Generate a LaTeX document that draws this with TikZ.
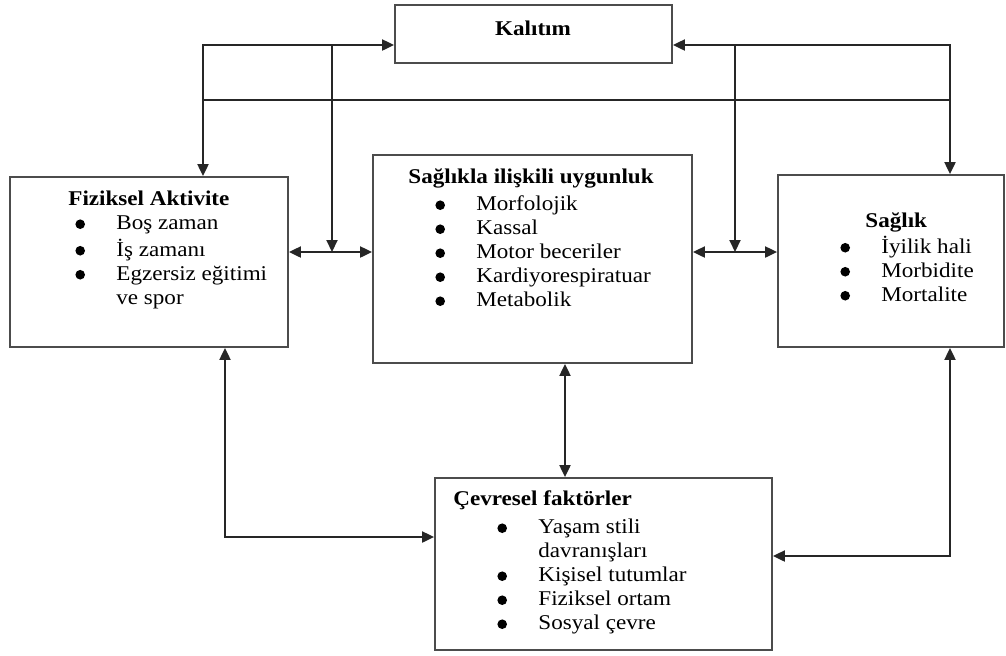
\documentclass[tikz,border=0pt]{standalone}
\usepackage{fontspec}
\setmainfont{Liberation Serif}[FakeStretch=1.1]
\usetikzlibrary{arrows.meta}
\newcommand{\bul}{\makebox[20.5pt][l]{\tikz[baseline=-2.8pt]\fill (2.4pt,0) circle [radius=2.4pt];}}

\begin{document}
\begin{tikzpicture}[
    x=0.5pt, y=-0.5pt,
    font=\fontsize{10.5}{12}\selectfont,
    box/.style={
        draw=black!70,
        line width=0.9pt,
        inner sep=0pt
    },
    title/.style={
        font=\fontsize{10.5}{12}\selectfont\bfseries,
        inner sep=0pt,
        anchor=west
    },
    items/.style={
        align=left,
        inner sep=0pt,
        anchor=north west
    },
    link/.style={
        draw=black!85,
        line width=1pt,
        -{Triangle[length=6pt,width=5.5pt]}
    },
    both/.style={
        link,
        {Triangle[length=6pt,width=5.5pt]}-{Triangle[length=6pt,width=5.5pt]}
    }
]
\useasboundingbox (0,0) rectangle (1006,655);

% ============================================================
% Boxes
% ============================================================

\node[box, minimum width=138.5pt, minimum height=29pt] (kalitim) at (533.5,34) {};
\node[box, minimum width=139pt, minimum height=85pt] (fizik) at (149,262) {};
\node[box, minimum width=159.5pt, minimum height=104pt] (uygun) at (532.5,259) {};
\node[box, minimum width=113pt, minimum height=86pt] (saglik) at (891,261) {};
\node[box, minimum width=168.5pt, minimum height=86pt] (cevre) at (603.5,564) {};

% ============================================================
% Texts
% ============================================================

\node[title, anchor=center] (kalitimt) at (533,28) {Kalıtım};

\node[title] (fizikt) at (68,198) {Fiziksel Aktivite};
\node[items] (fiziki) at (75,212.6) {
    \strut\bul Boş zaman\\
    \bul İş zamanı\\
    \bul Egzersiz eğitimi\\
    \hspace*{20.5pt}ve spor
};

\node[title] (uygunt) at (408,178) {Sağlıkla ilişkili uygunluk};
\node[items] (uyguni) at (435,193.6) {
    \strut\bul Morfolojik\\
    \bul Kassal\\
    \bul Motor beceriler\\
    \bul Kardiyorespiratuar\\
    \bul Metabolik
};

\node[title] (saglikt) at (865,222) {Sağlık};
\node[items] (sagliki) at (840,235.6) {
    \strut\bul İyilik hali\\
    \bul Morbidite\\
    \bul Mortalite
};

\node[title] (cevret) at (453,500) {Çevresel faktörler};
\node[items] (cevrei) at (497,516.6) {
    \strut\bul Yaşam stili\\
    \hspace*{20.5pt}davranışları\\
    \bul Kişisel tutumlar\\
    \bul Fiziksel ortam\\
    \bul Sosyal çevre
};

% ============================================================
% Junction points
% ============================================================

\coordinate (tl) at (203,45);
\coordinate (ml) at (332,45);
\coordinate (mr) at (735,45);
\coordinate (tr) at (950,45);
\coordinate (hl) at (203,100);
\coordinate (hr) at (950,100);
\coordinate (jl) at (332,252);
\coordinate (jr) at (735,252);
\coordinate (ju) at (565,420);
\coordinate (bl) at (225,537);
\coordinate (br) at (950,556);

% ============================================================
% Connectors from Kalıtım
% ============================================================

\draw[both] (kalitim.west |- tl) -- (tl) -- (fizik.north -| tl);
\draw[both] (kalitim.east |- tr) -- (tr) -- (saglik.north -| tr);
\draw[link] (ml) -- (jl);
\draw[link] (mr) -- (jr);
\draw[draw=black!85, line width=1pt] (hl) -- (hr);

% ============================================================
% Middle row
% ============================================================

\draw[both] (fizik.east |- jl) -- (uygun.west |- jl);
\draw[both] (uygun.east |- jr) -- (saglik.west |- jr);

% ============================================================
% Connectors to Çevresel faktörler
% ============================================================

\draw[both] (fizik.south -| bl) -- (bl) -- (cevre.west |- bl);
\draw[both] (uygun.south -| ju) -- (cevre.north -| ju);
\draw[both] (saglik.south -| br) -- (br) -- (cevre.east |- br);

\end{tikzpicture}
\end{document}
